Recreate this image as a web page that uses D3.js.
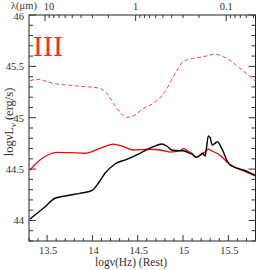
<!DOCTYPE html>
<html><head><meta charset="utf-8">
<script src="https://cdn.jsdelivr.net/npm/d3@7"></script>
<style>
body{margin:0;background:#fff;}
svg text{font-family:"Liberation Serif","Times New Roman",serif;fill:#333;}
</style></head>
<body><svg id="c" width="270" height="270"></svg>
<script>
// Data (log nu [Hz], log nuL_nu [erg/s])
const blackX = [13.311,13.458,13.587,13.716,13.863,13.992,14.065,14.139,14.249,14.378,14.525,14.672,14.765,14.820,14.875,14.948,15.003,15.058,15.096,15.151,15.187,15.217,15.243,15.261,15.279,15.298,15.323,15.353,15.383,15.408,15.445,15.482,15.519,15.574,15.665,15.794];
const blackY = [44.014,44.118,44.216,44.241,44.264,44.290,44.362,44.459,44.550,44.595,44.654,44.718,44.744,44.725,44.686,44.679,44.679,44.660,44.647,44.615,44.634,44.654,44.627,44.718,44.822,44.809,44.734,44.751,44.767,44.734,44.669,44.588,44.540,44.517,44.491,44.442];
const redX = [13.311,13.421,13.532,13.606,13.753,13.918,14.084,14.230,14.341,14.451,14.636,14.746,14.856,14.967,15.011,15.047,15.096,15.143,15.187,15.232,15.279,15.334,15.389,15.445,15.500,15.574,15.665,15.794];
const redY = [44.491,44.588,44.647,44.663,44.660,44.654,44.702,44.744,44.718,44.686,44.693,44.686,44.666,44.679,44.702,44.679,44.654,44.615,44.637,44.660,44.693,44.669,44.647,44.605,44.556,44.517,44.484,44.433];
const dashX = [13.311,13.385,13.568,13.826,14.084,14.158,14.268,14.378,14.451,14.562,14.672,14.801,14.893,15.003,15.113,15.224,15.353,15.482,15.629,15.795];
const dashY = [45.360,45.374,45.335,45.309,45.286,45.238,45.092,45.004,45.017,45.092,45.140,45.253,45.399,45.545,45.578,45.594,45.617,45.578,45.481,45.360];
const xTicks = [13.5,14,14.5,15,15.5];
const yTicks = [44,44.5,45,45.5,46];
const lambdaMajor = [10,1,0.1];
const lambdaMajorLabels = ["10","1","0.1"];
const lambdaMinor = [9,8,7,6,5,4,3,2,0.9,0.8,0.7,0.6,0.5,0.4,0.3,0.2,0.09,0.08,0.07,0.06,0.05];
const LOGC = Math.log10(2.998e14); // micron/s

const svg = d3.select("#c");
const L=29, R=255.5, T=15, B=241;
const x = d3.scaleLinear().domain([13.3,15.8]).range([L,R]);
const y = d3.scaleLinear().domain([43.8,46]).range([B,T]);

const line = d3.line().x(d=>x(d[0])).y(d=>y(d[1])).curve(d3.curveMonotoneX);
const zip = (a,b)=>a.map((v,i)=>[v,b[i]]);

const g = svg.append("g");
g.append("path").datum(zip(dashX,dashY)).attr("d",line)
  .attr("fill","none").attr("stroke","#ff3030").attr("stroke-width",0.9).attr("stroke-dasharray","4,2.5");
g.append("path").datum(zip(redX,redY)).attr("d",line)
  .attr("fill","none").attr("stroke","#ff0000").attr("stroke-width",1.3);
g.append("path").datum(zip(blackX,blackY)).attr("d",line)
  .attr("fill","none").attr("stroke","#000").attr("stroke-width",1.4);

// frame
svg.append("rect").attr("x",L).attr("y",T).attr("width",R-L).attr("height",B-T)
  .attr("fill","none").attr("stroke","#222").attr("stroke-width",1);

const tk = svg.append("g").attr("stroke","#333").attr("stroke-width",1);
d3.range(133,159).map(v=>v/10).forEach(v=>{
  const major = Math.abs(v*2-Math.round(v*2))<1e-6;
  tk.append("line").attr("x1",x(v)).attr("x2",x(v)).attr("y1",B).attr("y2",B-(major?6:3));
});
d3.range(438,461).map(v=>v/10).forEach(v=>{
  const major = Math.abs(v*2-Math.round(v*2))<1e-6;
  const len = major?7:4;
  tk.append("line").attr("x1",L).attr("x2",L+len).attr("y1",y(v)).attr("y2",y(v));
  tk.append("line").attr("x1",R).attr("x2",R-len).attr("y1",y(v)).attr("y2",y(v));
});
const xl = l => x(LOGC-Math.log10(l));
lambdaMajor.forEach(l=>tk.append("line").attr("x1",xl(l)).attr("x2",xl(l)).attr("y1",T).attr("y2",T+6));
lambdaMinor.forEach(l=>tk.append("line").attr("x1",xl(l)).attr("x2",xl(l)).attr("y1",T).attr("y2",T+3));

// labels
const fs = 10.5;
xTicks.forEach(v=>svg.append("text").attr("x",x(v)+1).attr("y",B+13).attr("text-anchor","middle").attr("font-size",fs).text(d3.format("")(v)));
yTicks.forEach(v=>svg.append("text").attr("x",L-5).attr("y",y(v)+(v===46?5:4)).attr("text-anchor","end").attr("font-size",fs).text(d3.format("")(v)));
lambdaMajor.forEach((l,i)=>svg.append("text").attr("x",xl(l)+(i===0?4:0)).attr("y",10).attr("text-anchor","middle").attr("font-size",fs).text(lambdaMajorLabels[i]));
svg.append("text").attr("x",11).attr("y",9).attr("font-size",10.5).text("λ(μm)");

svg.append("text").attr("x",131).attr("y",266).attr("text-anchor","middle").attr("font-size",11.5).text("logν(Hz)  (Rest)");
const yl = svg.append("text").attr("transform","translate(13,122) rotate(-90)").attr("text-anchor","middle").attr("font-size",12.5);
yl.append("tspan").text("logνL");
yl.append("tspan").attr("font-size",8.5).attr("dy",3).text("ν");
yl.append("tspan").attr("dy",-3).text("  (erg/s)");

svg.append("text").attr("x",33).attr("y",56).attr("font-size",30).style("fill","#ff2a2a").text("III");
</script></body></html>
